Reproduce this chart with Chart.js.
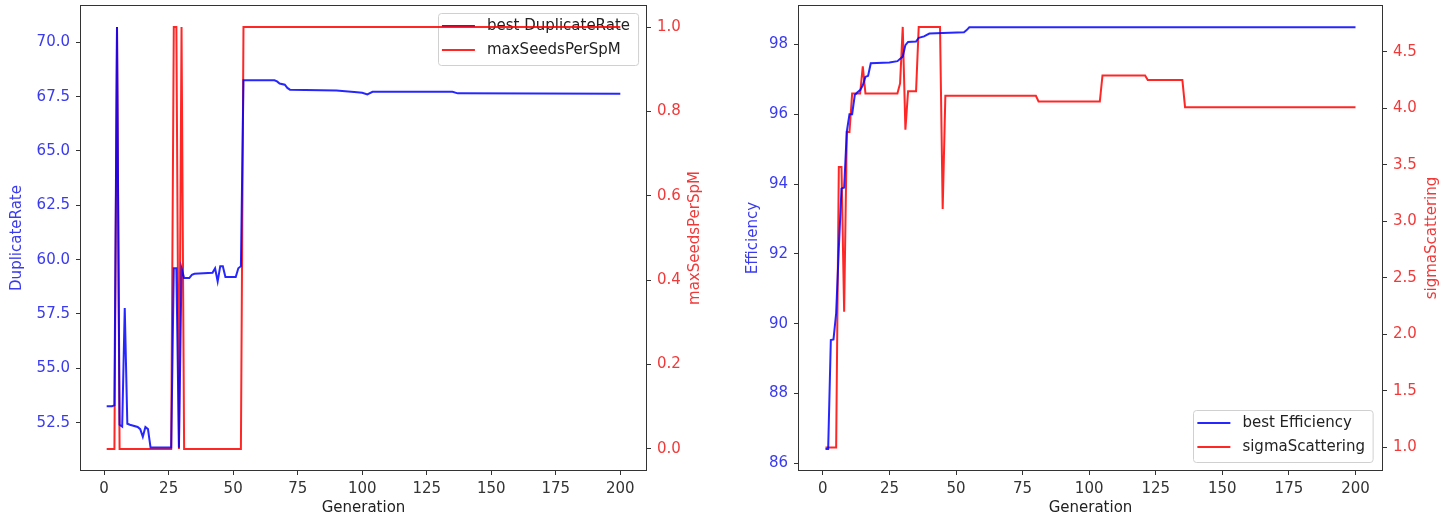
<!DOCTYPE html>
<html lang="en">
<head>
<meta charset="UTF-8">
<title>DuplicateRate / Efficiency per generation</title>
<script src="https://cdn.jsdelivr.net/npm/chart.js"></script>
<style>
  body { margin: 0; background: #fff; }
  .panel { position: absolute; top: 0; }
</style>
</head>
<body>
<div class="panel" style="left:0"><canvas id="dupChart" width="720" height="520"></canvas></div>
<div class="panel" style="left:720px"><canvas id="effChart" width="721" height="520"></canvas></div>

<script>
// tick labels
const genTicks = [0, 25, 50, 75, 100, 125, 150, 175, 200];
const dupTicks = [52.5, 55.0, 57.5, 60.0, 62.5, 65.0, 67.5, 70.0];
const seedTicks = [0.0, 0.2, 0.4, 0.6, 0.8, 1.0];
const effTicks = [86, 88, 90, 92, 94, 96, 98];
const sigmaTicks = [1.0, 1.5, 2.0, 2.5, 3.0, 3.5, 4.0, 4.5];

// left plot: best DuplicateRate (vertices where the line bends)
const dupGen  = [1, 3, 4, 5, 6, 7, 8, 9, 10, 13, 14, 15, 16, 17, 18, 26, 27, 28, 29, 30, 31, 33, 34, 35, 42, 43, 44, 45, 46, 47, 51, 52, 53, 54, 66, 67, 68, 70, 71, 72, 90, 98, 100, 102, 104, 135, 137, 200];
const dupRate = [53.25, 53.25, 53.3, 70.7, 52.4, 52.32, 57.77, 52.45, 52.4, 52.3, 52.2, 51.85, 52.3, 52.2, 51.35, 51.35, 59.6, 59.6, 51.35, 59.6, 59.15, 59.15, 59.3, 59.35, 59.4, 59.6, 59.0, 59.7, 59.7, 59.2, 59.2, 59.6, 59.7, 68.25, 68.25, 68.2, 68.1, 68.05, 67.9, 67.82, 67.78, 67.7, 67.68, 67.6, 67.72, 67.72, 67.65, 67.63];

// left plot: maxSeedsPerSpM
const seedGen = [1, 4, 5, 6, 26, 27, 28, 29, 30, 31, 53, 54, 200];
const seedVal = [0, 0, 1, 0, 0, 1, 1, 0, 1, 0, 0, 1, 1];

// right plot: best Efficiency
const effGen = [1, 2, 3, 4, 5, 6, 7, 8, 9, 10, 11, 12, 13, 14, 15, 16, 17, 18, 25, 28, 30, 31, 32, 35, 36, 38, 40, 45, 53, 54, 55, 200];
const effVal = [86.41, 86.41, 89.53, 89.55, 90.3, 92.15, 93.87, 93.9, 95.5, 96.0, 96.0, 96.55, 96.63, 96.69, 96.83, 97.07, 97.1, 97.46, 97.48, 97.52, 97.65, 97.98, 98.07, 98.08, 98.19, 98.23, 98.31, 98.33, 98.35, 98.41, 98.49, 98.49];

// right plot: sigmaScattering
const sigGen = [1, 5, 6, 7, 8, 9, 10, 11, 14, 15, 16, 28, 29, 30, 31, 32, 35, 36, 44, 45, 46, 80, 81, 104, 105, 121, 122, 135, 136, 200];
const sigVal = [1.0, 1.0, 3.48, 3.48, 2.2, 3.79, 3.79, 4.13, 4.13, 4.37, 4.13, 4.13, 4.22, 4.72, 3.81, 4.15, 4.15, 4.72, 4.72, 3.11, 4.11, 4.11, 4.06, 4.06, 4.29, 4.29, 4.25, 4.25, 4.01, 4.01];

const BLUE = 'rgba(0, 0, 255, 0.85)';
const RED = 'rgba(255, 0, 0, 0.85)';
const BLUE_TXT = '#3a3aee';
const RED_TXT = '#f03a3a';
const FONT = '"DejaVu Sans", sans-serif';

Chart.defaults.font.family = FONT;
Chart.defaults.font.size = 15;

const pts = (xs, ys) => xs.map((x, i) => ({ x: x, y: ys[i] }));
const fixTicks = vals => scale => { scale.ticks = vals.map(v => ({ value: v })); };

// frame, matplotlib-like legend box and the right-hand axis title
const extras = {
  id: 'extras',
  beforeDatasetsDraw(chart, args, opts) {
    if (opts.legend.under) drawLegend(chart, opts.legend);
  },
  afterDatasetsDraw(chart, args, opts) {
    if (!opts.legend.under) drawLegend(chart, opts.legend);
    const a = chart.chartArea, ctx = chart.ctx;
    ctx.save();
    ctx.strokeStyle = '#333';
    ctx.lineWidth = 1;
    ctx.strokeRect(Math.round(a.left) - 0.5, Math.round(a.top) - 0.5, Math.round(a.right - a.left) + 1, Math.round(a.bottom - a.top) + 1);
    ctx.restore();
  },
  afterDraw(chart, args, opts) {
    const a = chart.chartArea, ctx = chart.ctx, t = opts.rightTitle;
    ctx.save();
    ctx.translate(chart.width - t.offset, (a.top + a.bottom) / 2);
    ctx.rotate(-Math.PI / 2);
    ctx.font = '15px ' + FONT;
    ctx.fillStyle = t.color;
    ctx.textAlign = 'center';
    ctx.textBaseline = 'middle';
    ctx.fillText(t.text, 0, 0);
    ctx.restore();
  }
};

function drawLegend(chart, cfg) {
  const ctx = chart.ctx, a = chart.chartArea;
  ctx.save();
  ctx.font = '15px ' + FONT;
  const textW = Math.max(...cfg.items.map(it => ctx.measureText(it.label).width));
  const w = 4 + 33 + 12 + textW + 8, h = 52;
  const x = a.right - cfg.dx - w;
  const y = cfg.top ? a.top + cfg.dy : a.bottom - cfg.dy - h;
  ctx.fillStyle = 'rgba(255, 255, 255, 0.8)';
  ctx.strokeStyle = '#d0d0d0';
  ctx.lineWidth = 1;
  ctx.beginPath();
  ctx.roundRect(Math.round(x) + 0.5, Math.round(y) + 0.5, w, h, 3);
  ctx.fill();
  ctx.stroke();
  cfg.items.forEach((it, i) => {
    const ly = y + 13 + i * 24;
    ctx.strokeStyle = it.color;
    ctx.lineWidth = 2;
    ctx.beginPath();
    ctx.moveTo(x + 4, ly);
    ctx.lineTo(x + 37, ly);
    ctx.stroke();
    ctx.fillStyle = '#222';
    ctx.textBaseline = 'middle';
    ctx.fillText(it.label, x + 49, ly);
  });
  ctx.restore();
}

function xAxis() {
  return {
    type: 'linear', min: -8.95, max: 209.95,
    afterBuildTicks: fixTicks(genTicks),
    afterFit: s => { s.height = 50; s.paddingLeft = 0; s.paddingRight = 0; },
    grid: { drawOnChartArea: false, tickLength: 5, color: '#333' },
    border: { display: false },
    ticks: { color: '#333', padding: 5, maxRotation: 0, autoSkip: false },
    title: { display: true, text: 'Generation', color: '#222', padding: { top: 0, bottom: 3 } }
  };
}

function yAxis(pos, min, max, tickVals, digits, width, color, title, titlePad) {
  return {
    type: 'linear', position: pos, min: min, max: max,
    afterBuildTicks: fixTicks(tickVals),
    // fixed width and no extra padding, so the plot box sits where the reference has it
    afterFit: s => { s.width = width; s.paddingTop = 0; s.paddingBottom = 0; },
    grid: { drawOnChartArea: false, tickLength: 5, color: '#333' },
    border: { display: false },
    ticks: { color: color, padding: 6, autoSkip: false, callback: v => v.toFixed(digits) },
    title: { display: !!title, text: title, color: color, padding: { top: titlePad, bottom: 0 } }
  };
}

function lineSet(label, data, color, axis) {
  return {
    label: label, data: data, yAxisID: axis,
    borderColor: color, borderWidth: 2, pointRadius: 0, tension: 0, fill: false
  };
}

// left panel
new Chart(document.getElementById('dupChart'), {
  type: 'line',
  data: {
    datasets: [
      lineSet('best DuplicateRate', pts(dupGen, dupRate), BLUE, 'y'),
      lineSet('maxSeedsPerSpM', pts(seedGen, seedVal), RED, 'y2')
    ]
  },
  options: {
    responsive: false,
    animation: false,
    layout: { padding: { top: 6, left: 0, right: 0, bottom: 0 } },
    scales: {
      x: xAxis(),
      y: yAxis('left', 50.32, 71.67, dupTicks, 1, 81, BLUE_TXT, 'DuplicateRate', 8),
      y2: yAxis('right', -0.05, 1.05, seedTicks, 1, 74, RED_TXT, '', 0)
    },
    plugins: {
      legend: { display: false },
      tooltip: { enabled: false },
      extras: {
        legend: { under: true, top: true, dx: 8, dy: 7, items: [
          { label: 'best DuplicateRate', color: BLUE },
          { label: 'maxSeedsPerSpM', color: RED }
        ] },
        rightTitle: { text: 'maxSeedsPerSpM', color: RED_TXT, offset: 25 }
      }
    }
  },
  plugins: [extras]
});

// right panel
new Chart(document.getElementById('effChart'), {
  type: 'line',
  data: {
    datasets: [
      lineSet('best Efficiency', pts(effGen, effVal), BLUE, 'y'),
      lineSet('sigmaScattering', pts(sigGen, sigVal), RED, 'y2')
    ]
  },
  options: {
    responsive: false,
    animation: false,
    layout: { padding: { top: 6, left: 0, right: 0, bottom: 0 } },
    scales: {
      x: xAxis(),
      y: yAxis('left', 85.81, 99.1, effTicks, 0, 79, BLUE_TXT, 'Efficiency', 24),
      y2: yAxis('right', 0.8, 4.905, sigmaTicks, 1, 59, RED_TXT, '', 0)
    },
    plugins: {
      legend: { display: false },
      tooltip: { enabled: false },
      extras: {
        legend: { under: false, top: false, dx: 9, dy: 8, items: [
          { label: 'best Efficiency', color: BLUE },
          { label: 'sigmaScattering', color: RED }
        ] },
        rightTitle: { text: 'sigmaScattering', color: RED_TXT, offset: 9 }
      }
    }
  },
  plugins: [extras]
});
</script>
</body>
</html>
